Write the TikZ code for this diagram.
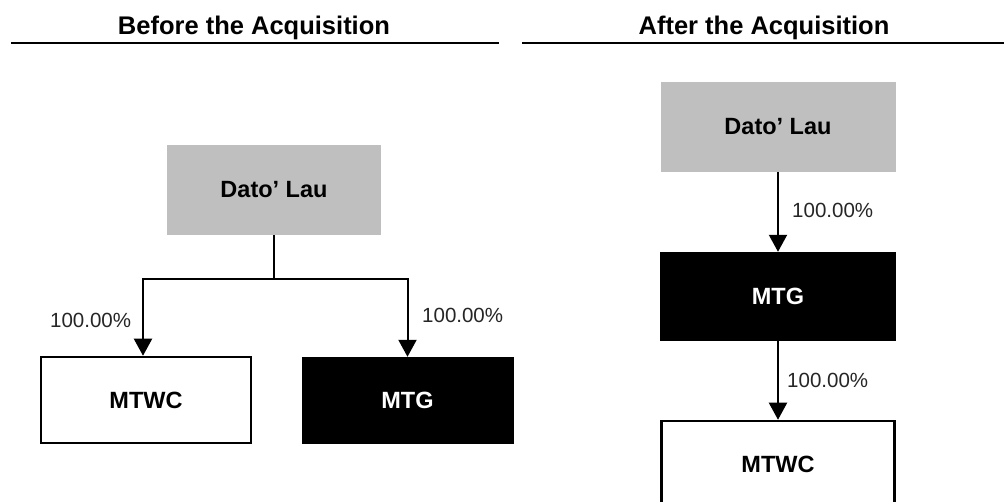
\documentclass[tikz,border=0pt]{standalone}
\usepackage{fontspec}
\setmainfont{Liberation Sans}
\usetikzlibrary{arrows.meta}
\definecolor{boxgray}{HTML}{BFBFBF}
\begin{document}
\begin{tikzpicture}[x=1pt,y=-1pt,
  hdr/.style={font=\fontsize{25.5}{30}\selectfont\bfseries, anchor=base, inner sep=0pt},
  rulel/.style={line width=2.2pt},
  owner/.style={fill=boxgray, draw=none, font=\fontsize{23.5}{28}\selectfont\bfseries, inner sep=0pt},
  whitebox/.style={fill=white, draw=black, line width=2.5pt, font=\fontsize{23.5}{28}\selectfont\bfseries, inner sep=0pt},
  blackbox/.style={fill=black, draw=black, text=white, font=\fontsize{23.5}{28}\selectfont\bfseries, inner sep=0pt},
  pct/.style={font=\fontsize{20.5}{24}\selectfont, anchor=west, inner sep=0pt, text=black!85},
  conn/.style={line width=2pt},
  arr/.style={line width=2pt, -{Triangle[width=18pt,length=17pt]}}
]
\useasboundingbox (0,0) rectangle (1004,502);
\fill[white] (0,0) rectangle (1004,502);

% headers
\node[hdr] (hb) at (254,35) {Before the Acquisition};
\node[hdr] (ha) at (764,35) {After the Acquisition};
\coordinate (rb1) at (11,43);
\coordinate (rb2) at (499,43);
\coordinate (ra1) at (522,43);
\coordinate (ra2) at (1004,43);
\draw[rulel] (rb1) -- (rb2);
\draw[rulel] (ra1) -- (ra2);

% before
\node[owner, minimum width=214pt, minimum height=90pt] (dl1) at (274,190) {Dato’ Lau};
\node[whitebox, minimum width=210pt, minimum height=86pt] (mtwc1) at (146,400) {MTWC};
\node[blackbox, minimum width=211pt, minimum height=86pt] (mtg1) at (407.5,400) {MTG};
\coordinate (j) at (274,279);
\coordinate (jl) at (143,279);
\coordinate (jr) at (407.5,279);
\draw[conn] (dl1.south) -- (j);
\draw[arr] (j) -- (jl) -- (jl |- mtwc1.north);
\draw[arr] (j) -- (jr) -- (mtg1.north);
\node[pct] (p1) at (50,320) {100.00\%};
\node[pct] (p2) at (422,315) {100.00\%};

% after
\node[owner, minimum width=235pt, minimum height=90pt] (dl2) at (778,127) {Dato’ Lau};
\node[blackbox, minimum width=235pt, minimum height=88pt] (mtg2) at (778,296) {MTG};
\node[whitebox, minimum width=233pt, minimum height=86pt] (mtwc2) at (778,464) {MTWC};
\draw[arr] (dl2.south) -- (mtg2.north);
\draw[arr] (mtg2.south) -- (mtwc2.north);
\node[pct] (p3) at (792,210) {100.00\%};
\node[pct] (p4) at (787,380) {100.00\%};
\end{tikzpicture}
\end{document}
